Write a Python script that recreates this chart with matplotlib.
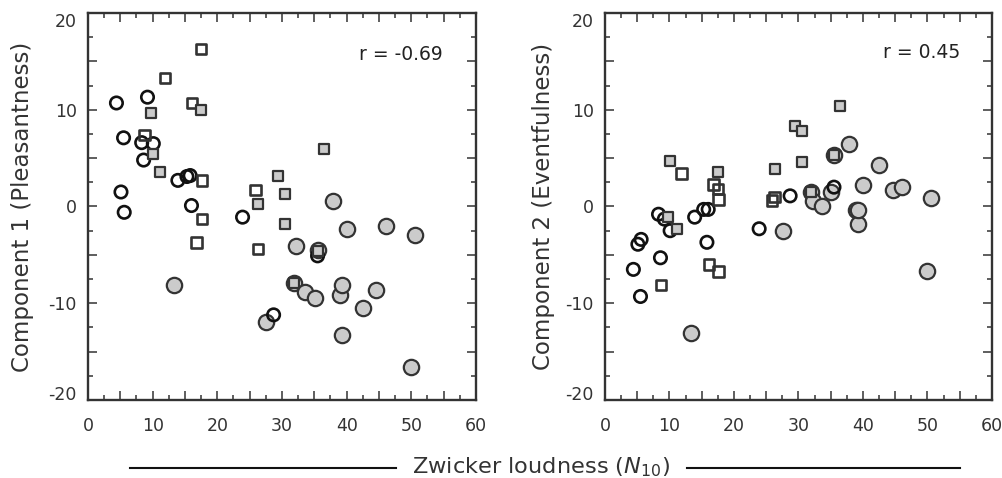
import matplotlib
matplotlib.use("Agg")
import matplotlib.pyplot as plt
from matplotlib.ticker import FuncFormatter
from matplotlib.lines import Line2D

# ---- data ----
# open circles
oc_x  = [4.4, 5.1, 5.5, 5.6, 8.3, 8.6, 9.2, 10.1, 13.9, 15.3, 15.8, 16.0, 23.9, 28.7, 35.5]
oc_y1 = [10.7, 1.5, 7.1, -0.6, 6.6, 4.8, 11.3, 6.5, 2.7, 3.1, 3.2, 0.1, -1.1, -11.2, -5.1]
oc_y2 = [-6.5, -3.9, -9.3, -3.4, -0.8, -5.3, -1.3, -2.5, -1.1, -0.3, -3.7, -0.3, -2.3, 1.1, 2.0]
# open squares
os_x  = [8.7, 11.9, 16.1, 16.8, 17.5, 17.6, 17.6, 25.9, 26.3]
os_y1 = [7.4, 13.3, 10.7, -3.7, 16.3, 2.7, -1.3, 1.7, -4.4]
os_y2 = [-8.1, 3.4, -6.0, 2.3, 1.8, 0.7, -6.7, 0.6, 1.0]
# grey squares
gs_x  = [9.7, 10.1, 11.1, 17.5, 26.3, 29.4, 30.5, 30.5, 31.9, 35.5, 36.5]
gs_y1 = [9.7, 5.4, 3.6, 10.0, 0.3, 3.2, 1.3, -1.8, -7.9, -4.6, 5.9]
gs_y2 = [-1.1, 4.7, -2.3, 3.6, 3.9, 8.3, 7.8, 4.6, 1.5, 5.3, 10.4]
# grey circles
gc_x  = [13.3, 27.6, 31.9, 32.2, 33.6, 35.1, 35.5, 37.9, 38.9, 39.3, 39.3, 40.0, 42.5, 44.6, 46.1, 49.9, 50.5]
gc_y1 = [-8.1, -11.9, -7.9, -4.1, -8.8, -9.5, -4.5, 0.55, -9.1, -8.1, -13.3, -2.3, -10.5, -8.6, -2.0, -16.6, -2.9]
gc_y2 = [-13.1, -2.5, 1.5, 0.55, 0.1, 1.5, 5.3, 6.5, -0.4, -1.8, -0.4, 2.2, 4.3, 1.7, 2.0, -6.7, 0.9]

x_major = [0, 5, 10, 15, 20, 25, 30, 35, 40, 45, 50, 55, 60]
x_minor = [2.5, 7.5, 12.5, 17.5, 22.5, 27.5, 32.5, 37.5, 42.5, 47.5, 52.5, 57.5]
y_major = [-20, -15, -10, -5, 0, 5, 10, 15, 20]
y_minor = [-17.5, -12.5, -7.5, -2.5, 2.5, 7.5, 12.5, 17.5]

ylabels = ["Component 1 (Pleasantness)", "Component 2 (Eventfulness)"]
r_texts = ["r = -0.69", "r = 0.45"]
xlabel = r"Zwicker loudness ($\mathit{N}_{\mathit{10}}$)"

DARK = "#333333"
GREY = "#cbcbcb"

plt.rcParams['font.family'] = ['DejaVu Sans']
plt.rcParams['mathtext.fontset'] = 'custom'
plt.rcParams['mathtext.rm'] = 'DejaVu Sans'
plt.rcParams['mathtext.it'] = 'DejaVu Sans:italic'

fig = plt.figure(figsize=(10.03, 4.78), dpi=100)
W, H = 1003, 478
axes_px = [(88, 13, 476, 400), (605, 13, 992, 400)]
label_x = [34, 555]
r_pos = [(443, 55), (960, 53)]

fmt = FuncFormatter(lambda v, p: f"{int(round(v))}" if int(round(v)) % 10 == 0 else "")

for i, (x0, y0, x1, y1) in enumerate(axes_px):
    ax = fig.add_axes([x0 / W, 1 - y1 / H, (x1 - x0) / W, (y1 - y0) / H])
    ys = [(oc_y1, os_y1, gs_y1, gc_y1), (oc_y2, os_y2, gs_y2, gc_y2)][i]
    ax.scatter(gc_x, ys[3], s=122, marker='o', facecolor=GREY, edgecolor=DARK, linewidth=1.6, zorder=3)
    ax.scatter(oc_x, ys[0], s=80, marker='o', facecolor='none', edgecolor='#111111', linewidth=1.9, zorder=4)
    ax.scatter(os_x, ys[1], s=58, marker='s', facecolor='none', edgecolor=DARK, linewidth=1.9, zorder=4)
    ax.scatter(gs_x, ys[2], s=58, marker='s', facecolor=GREY, edgecolor=DARK, linewidth=1.6, zorder=5)

    ax.set_xlim(0, 60)
    ax.set_ylim(-20, 20)
    for sp in ax.spines.values():
        sp.set_linewidth(1.7)
        sp.set_color(DARK)
    ax.set_xticks(x_major)
    ax.set_xticks(x_minor, minor=True)
    ax.set_yticks(y_major)
    ax.set_yticks(y_minor, minor=True)
    ax.xaxis.set_major_formatter(fmt)
    ax.yaxis.set_major_formatter(fmt)
    ax.tick_params(which='both', direction='in', top=True, right=True, color=DARK,
                   labelcolor=DARK, labelsize=12.5, width=1.1)
    ax.tick_params(which='major', length=6.5)
    ax.tick_params(which='minor', length=3.5)
    ax.tick_params(axis='x', pad=12)
    ax.tick_params(axis='y', pad=8)
    ticks = ax.yaxis.get_major_ticks()
    ticks[0].label1.set_va('baseline')
    ticks[-1].label1.set_va('top')

    ax.set_ylabel(ylabels[i], fontsize=16.5, color=DARK)
    ax.yaxis.set_label_coords((label_x[i] - x0) / (x1 - x0), 0.5)
    rx, ry = r_pos[i]
    ax.text((rx - x0) / (x1 - x0), 1 - (ry - y0) / (y1 - y0), r_texts[i],
            transform=ax.transAxes, ha='right', va='center', fontsize=13.5, color='#222222')

# shared x label with flanking lines
yl = 1 - 467.5 / H
fig.text(541 / W, yl, xlabel, ha='center', va='center', fontsize=16.2, color=DARK)
fig.add_artist(Line2D([130 / W, 396 / W], [yl, yl], color='#111111', linewidth=1.5))
fig.add_artist(Line2D([687 / W, 960 / W], [yl, yl], color='#111111', linewidth=1.5))

fig.savefig("out.png", dpi=100)
